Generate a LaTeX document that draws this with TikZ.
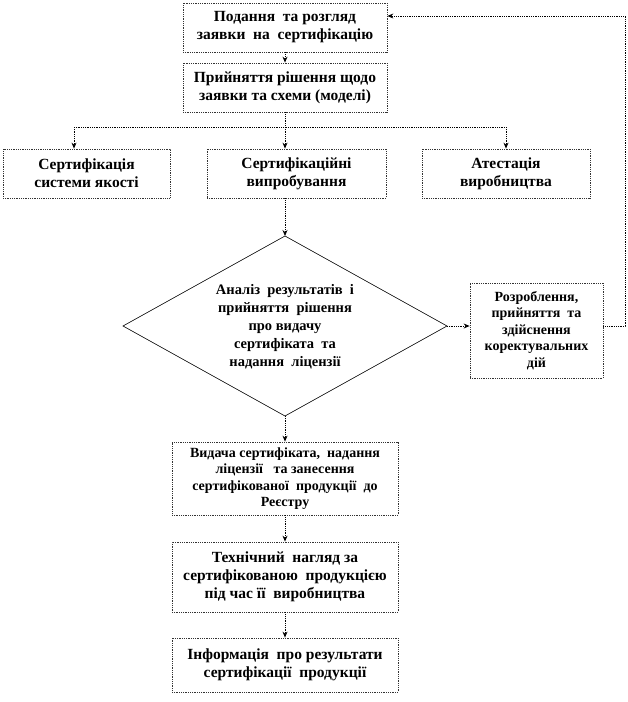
\documentclass[tikz,border=0pt]{standalone}
\usepackage{fontspec}
\setmainfont{Liberation Serif}[BoldFont={Liberation Serif Bold}]
\newfontfamily\tnr{Liberation Serif}[BoldFont={Liberation Serif Bold}]
\usetikzlibrary{arrows.meta,calc}
\tikzset{
 box/.style={draw=black!80, densely dotted, line width=0.8pt, align=center, inner sep=2pt, font=\tnr\fontsize{15.5}{18}\selectfont\bfseries},
 smallbox/.style={box, font=\tnr\fontsize{14}{16.5}\selectfont\bfseries},
 conn/.style={densely dotted, line width=0.8pt, -{Stealth[length=6pt,width=5pt]}},
 plainline/.style={densely dotted, line width=0.8pt},
 dia/.style={draw=black, line width=0.6pt},
 diatext/.style={align=center, inner sep=0pt, font=\tnr\fontsize{14.5}{18}\selectfont\bfseries},
}
\begin{document}
\begin{tikzpicture}[x=1pt,y=-1pt]
\useasboundingbox (0,0) rectangle (628,702);
\node[box, minimum width=204pt, minimum height=49pt] (b1) at (285,27.5) {Подання\ \ та розгляд\\заявки\ \ на\ \ сертифікацію};
\node[box, minimum width=204pt, minimum height=49pt] (b2) at (285,87.5) {Прийняття рішення щодо\\заявки та схеми (моделі)};
\node[box, minimum width=167pt, minimum height=49pt] (c1) at (86.5,173.5) {Сертифікація\\системи якості};
\node[box, minimum width=179pt, minimum height=49pt] (c2) at (296.5,173.5) {Сертифікаційні\\випробування};
\node[box, minimum width=168pt, minimum height=49pt] (c3) at (506,173.5) {Атестація\\виробництва};
\coordinate (dT) at (285,236);
\coordinate (dR) at (447,326);
\coordinate (dB) at (285,416);
\coordinate (dL) at (123,326);
\draw[dia] (dT) -- (dR) -- (dB) -- (dL) -- cycle;
\node[diatext] (dtext) at (285,327) {Аналіз\ \ результатів\ \ і\\прийняття\ \ рішення\\про видачу\\сертифіката\ \ та\\надання\ \ ліцензії};
\node[smallbox, minimum width=133pt, minimum height=95pt] (r) at (536.5,330.5) {Розроблення,\\прийняття\ \ та\\здійснення\\коректувальних\\дій};
\node[smallbox, minimum width=226pt, minimum height=73pt] (v) at (285,478.5) {Видача сертифіката,\ \ надання\\ліцензії\ \ \ та занесення\\сертифікованої\ \ продукції\ \ до\\Реєстру};
\node[box, minimum width=226pt, minimum height=70pt] (t) at (285,577) {Технічний\ \ нагляд за\\сертифікованою\ \ продукцією\\під час її\ \ виробництва};
\node[box, minimum width=226pt, minimum height=54pt] (i) at (285,665) {Інформація\ \ про результати\\сертифікації\ \ продукції};
\coordinate (split) at (285,127);
\coordinate (s1) at (74,127);
\coordinate (s3) at (506,127);
\coordinate (fbtop) at (625,16);
\draw[conn] (b1) -- (b2);
\draw[plainline] (b2.south) -- (split);
\draw[plainline] (s1) -- (s3);
\draw[conn] (s1) -- (s1 |- c1.north);
\draw[conn] (split) -- (split |- c2.north);
\draw[conn] (s3) -- (c3.north);
\draw[conn] (c2.south -| dT) -- (dT);
\draw[conn] (dR) -- (dR -| r.west);
\draw[conn] (r.east |- dR) -| (fbtop) -- (fbtop -| b1.east);
\draw[conn] (dB) -- (v.north);
\draw[conn] (v) -- (t);
\draw[conn] (t) -- (i);
\end{tikzpicture}
\end{document}
